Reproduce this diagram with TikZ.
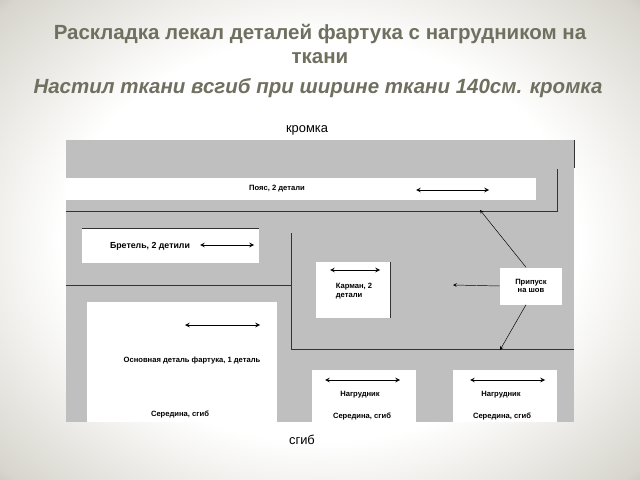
\documentclass[tikz,border=0pt]{standalone}
\usepackage{fontspec}
\setmainfont{Liberation Sans}
\usetikzlibrary{positioning}
\definecolor{titlegray}{HTML}{707060}
\definecolor{rim}{HTML}{7A7458}
\pgfdeclareradialshading{vignette}{\pgfpoint{0bp}{0bp}}{color(0bp)=(white); color(18bp)=(white); color(30bp)=(white!70!rim); color(40bp)=(rim); color(50bp)=(rim)}
\tikzset{
  piece/.style={fill=white, draw=none, inner sep=0pt, anchor=north west},
  grain/.style={<->, >=stealth, thick},
  lbl/.style={font=\fontsize{6.5}{7.5}\selectfont\bfseries, align=center, inner sep=0pt},
  seam/.style={draw=black!80, thick}
}
\begin{document}
\begin{tikzpicture}[x=0.03cm, y=-0.03cm]
\useasboundingbox (0,0) rectangle (640,480);
\begin{scope}
\clip (0,0) rectangle (640,480);
\shade[shading=vignette] (-40,-40) rectangle (680,520);
\end{scope}
% title
\node[font=\bfseries\fontsize{17.5}{21}\selectfont, text=titlegray, align=center] (title) at (320,44)
  {Раскладка лекал деталей фартука с нагрудником на\\ткани};
\node[font=\bfseries\itshape\fontsize{17.5}{21}\selectfont, text=titlegray] (sub) at (318,88)
  {Настил ткани всгиб при ширине ткани 140см. кромка};
\node[font=\fontsize{11}{13}\selectfont] (edge) at (307,130) {кромка};
\node[font=\fontsize{11}{13}\selectfont] (fold) at (302,440) {сгиб};
% fabric
\fill[black!25] (66,140) rectangle (574,422);
\draw[seam] (574,140) -- (574,168);
\draw[seam] (66,211) -- (557,211) -- (557,169);
\draw[seam] (66,285) -- (291,285);
\draw[seam] (291,233) -- (291,349) -- (574,349);
% pieces
\fill[white] (66,178) rectangle (536,200);
\node[lbl] (belt) at (277,189) {Пояс, 2 детали};
\draw[grain] (416,190) -- (489,190);
\fill[white] (82,229) rectangle (259,263);
\draw[seam] (82,228) -- (259,228);
\node[lbl, font=\fontsize{7.5}{8}\selectfont\bfseries] (strap) at (150,246) {Бретель, 2 детили};
\draw[grain] (200,245) -- (254,245);
\fill[white] (316,262) rectangle (390,318);
\draw[seam] (390,262) -- (390,318);
\node[lbl, align=left] (pocket) at (354,291) {Карман, 2\\детали};
\draw[grain] (330,270) -- (380,270);
\fill[white] (87,302) rectangle (277,422);
\node[lbl] (main) at (192,361) {Основная деталь фартука, 1 деталь};
\node[lbl] (mainc) at (180,414) {Середина, сгиб};
\draw[grain] (185,325) -- (260,325);
\fill[white] (312,370) rectangle (416,422);
\node[lbl] (bib1) at (360,395) {Нагрудник};
\node[lbl] (bib1c) at (362,416) {Середина, сгиб};
\draw[grain] (325,380) -- (400,380);
\fill[white] (453,370) rectangle (557,422);
\node[lbl] (bib2) at (501,395) {Нагрудник};
\node[lbl] (bib2c) at (502,416) {Середина, сгиб};
\draw[grain] (470,380) -- (545,380);
% seam allowance
\node[fill=white, lbl, minimum width=62*0.03cm, minimum height=37*0.03cm] (allow) at (531,286) {Припуск\\на шов};
\coordinate (a1) at (480,210);
\coordinate (a2) at (453,285);
\coordinate (a3) at (500,350);
\draw[->, >=stealth] (allow.north) ++(-5,0) -- (a1);
\draw[->, >=stealth] (allow.west) -- (a2);
\draw[->, >=stealth] (allow.south) ++(-5,0) -- (a3);
\end{tikzpicture}
\end{document}
